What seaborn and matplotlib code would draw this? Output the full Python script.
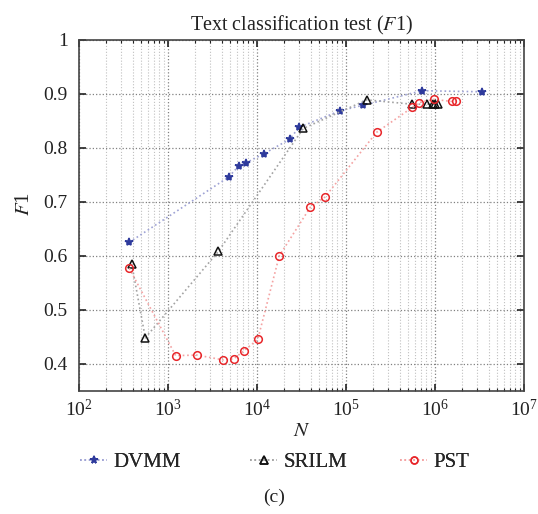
import numpy as np
import pandas as pd
import matplotlib
matplotlib.use("Agg")
import matplotlib.pyplot as plt
import seaborn as sns
from matplotlib.ticker import LogLocator, FixedLocator, FixedFormatter

# Values
dvmm_n = [367, 4800, 6280, 7460, 11900, 23300, 29600, 86300, 155000, 720000, 3370000]
dvmm_f1 = [0.625, 0.746, 0.767, 0.772, 0.789, 0.816, 0.838, 0.869, 0.879, 0.906, 0.904]

srilm_n = [391, 556, 3680, 33100, 171000, 552000, 820000, 942000, 1000000, 1090000]
srilm_f1 = [0.585, 0.448, 0.608, 0.836, 0.889, 0.881, 0.881, 0.882, 0.882, 0.882]

pst_n = [367, 1220, 2120, 4190, 5470, 7140, 10200, 17800, 39700, 58100,
         221000, 556000, 666000, 967000, 1560000, 1720000]
pst_f1 = [0.577, 0.415, 0.416, 0.407, 0.409, 0.424, 0.445, 0.600, 0.690, 0.709,
          0.829, 0.875, 0.884, 0.890, 0.886, 0.887]

y_ticks = [0.4, 0.5, 0.6, 0.7, 0.8, 0.9, 1.0]
y_tick_labels = ["0.4", "0.5", "0.6", "0.7", "0.8", "0.9", "1"]

sns.set_style("ticks")
plt.rcParams["font.family"] = ["Liberation Serif", "DejaVu Serif"]
plt.rcParams["mathtext.fontset"] = "stix"

fig = plt.figure(figsize=(5.38, 5.14), dpi=100)
ax = fig.add_axes([0.1468, 0.2399, 0.8272, 0.6823])

series = [
    ("DVMM", dvmm_n, dvmm_f1, "*", "#2e3a9c", "#2e3a9c", "#9ea2d4", 6),
    ("SRILM", srilm_n, srilm_f1, "^", "none", "#111111", "#a3a3a3", 6),
    ("PST", pst_n, pst_f1, "o", "none", "#e8262a", "#f4a2a2", 5.5),
]
# left edge of each legend entry, figure fraction
legend_x = [0.1487, 0.4647, 0.7435]

for (name, xs, ys, mk, fc, ec, lc, ms), lx in zip(series, legend_x):
    df = pd.DataFrame({"N": xs, "F1": ys})
    sns.lineplot(data=df, x="N", y="F1", ax=ax, sort=False, color=lc,
                 linestyle=":", linewidth=1.2, marker=mk, markersize=ms,
                 markerfacecolor=fc, markeredgecolor=ec, markeredgewidth=1.1)
    h, = ax.plot([], [], color=lc, linestyle=":", linewidth=1.2, marker=mk,
                 markersize=ms - 0.5, markerfacecolor=fc, markeredgecolor=ec,
                 markeredgewidth=1.1)
    leg = fig.legend([h], [name], loc="center left", bbox_to_anchor=(lx, 0.101),
                     frameon=False, fontsize=15, handlelength=1.3,
                     handletextpad=0.3, borderpad=0, borderaxespad=0)
    fig.add_artist(leg)

ax.set_xscale("log")
ax.set_xlim(1e2, 1e7)
ax.set_ylim(0.35, 1.0)
ax.xaxis.set_major_locator(LogLocator(base=10, numticks=10))
ax.xaxis.set_minor_locator(LogLocator(base=10, subs=np.arange(2, 10), numticks=50))
ax.yaxis.set_major_locator(FixedLocator(y_ticks))
ax.yaxis.set_major_formatter(FixedFormatter(y_tick_labels))

ax.grid(which="major", axis="both", linestyle=":", color="#808080", linewidth=0.9)
ax.grid(which="minor", axis="x", linestyle=":", color="#c0c0c0", linewidth=0.8)

ax.tick_params(which="both", direction="in", top=True, right=True,
               labelsize=14, colors="#222222")
ax.tick_params(which="major", length=5, width=1.2, pad=8)
ax.tick_params(which="minor", length=2.5, width=0.8)
ax.tick_params(axis="x", which="major", pad=6)
for sp in ax.spines.values():
    sp.set_color("#444444")
    sp.set_linewidth(1.2)

ax.set_title(r"Text classification test ($F$1)", fontsize=14.5, pad=7, color="#222222")
ax.set_xlabel(r"$N$", fontsize=15, labelpad=1, color="#222222")
ax.set_ylabel(r"$F$1", fontsize=15, color="#222222")
ax.yaxis.set_label_coords(-0.1, 0.533)

fig.text(0.509, 0.033, "(c)", ha="center", va="center", fontsize=14, color="#222222")

fig.savefig("out.png", dpi=100)
